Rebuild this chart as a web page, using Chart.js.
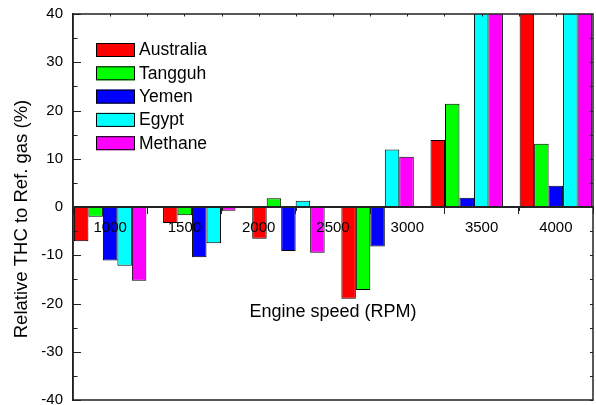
<!DOCTYPE html>
<html>
<head>
<meta charset="utf-8">
<script src="https://cdn.jsdelivr.net/npm/chart.js@4/dist/chart.umd.min.js"></script>
<style>
  html, body { margin: 0; padding: 0; background: #fff; }
  #wrap { width: 596px; height: 405px; }
</style>
</head>
<body>
<div id="wrap"><canvas id="myChart" width="596" height="405"></canvas></div>
<script>
// positions of the bar groups on the speed axis
const posicoes = [1000, 1600, 2200, 2800, 3400, 4000];
const ticksX = [1000, 1500, 2000, 2500, 3000, 3500, 4000];

const series = ['Australia', 'Tangguh', 'Yemen', 'Egypt', 'Methane'];
const australia = [-7.1, -3.3, -6.6, -19.0, 13.9, 52];
const tangguh = [-2.0, -1.7, 1.8, -17.2, 21.4, 13.1];
const yemen = [-11.1, -10.4, -9.1, -8.2, 1.9, 4.4];
const egypt = [-12.2, -7.5, 1.3, 11.9, 55, 60];
const methane = [-15.3, -0.8, -9.5, 10.4, 50, 58];
const cores = ['#ff0000', '#00ff00', '#0000ff', '#00ffff', '#ff00ff'];

const tituloY = 'Relative THC to Ref. gas (%)';
const fonte = "'Liberation Sans', Arial, sans-serif";

function montarDados(valores) {
    return posicoes.map((x, i) => ({ x: x, y: valores[i] }));
}

const todos = [australia, tangguh, yemen, egypt, methane];
const datasets = series.map((nome, i) => ({
    label: nome,
    data: montarDados(todos[i]),
    backgroundColor: cores[i],
    borderColor: '#000',
    borderWidth: 1,
    borderSkipped: false,
    categoryPercentage: 0.975,
    barPercentage: 1
}));

// moldura, ticks internos, titulo do eixo y e legenda
const moldura = {
    id: 'moldura',
    afterDraw(chart) {
        const c = chart.ctx;
        const a = chart.chartArea;
        const y = chart.scales.y;
        const x = chart.scales.x;
        c.save();
        c.strokeStyle = '#222';
        c.lineWidth = 1.5;
        c.strokeRect(a.left, a.top, a.right - a.left, a.bottom - a.top);
        c.lineWidth = 1;
        c.beginPath();
        for (let v = -40; v <= 40; v += 5) {
            const py = Math.round(y.getPixelForValue(v)) + 0.5;
            const len = v % 10 === 0 ? 8 : 4.5;
            c.moveTo(a.left, py); c.lineTo(a.left + len, py);
            c.moveTo(a.right, py); c.lineTo(a.right - 3, py);
        }
        for (let v = 1000; v <= 4000; v += 250) {
            const px = Math.round(x.getPixelForValue(v)) + 0.5;
            c.moveTo(px, a.top); c.lineTo(px, a.top + 2.5);
        }
        const y0 = y.getPixelForValue(0);
        for (let v = 1250; v <= 4000; v += 500) {
            const px = Math.round(x.getPixelForValue(v)) + 0.5;
            c.moveTo(px, y0); c.lineTo(px, y0 + 4);
        }
        c.stroke();

        // titulo do eixo y
        c.save();
        c.translate(22, 219);
        c.rotate(-Math.PI / 2);
        c.font = '18.5px ' + fonte;
        c.fillStyle = '#000';
        c.textAlign = 'center';
        c.textBaseline = 'middle';
        c.fillText(tituloY, 0, 0);
        c.restore();

        // legenda
        c.font = '17.5px ' + fonte;
        c.textBaseline = 'middle';
        c.textAlign = 'left';
        chart.data.datasets.forEach((ds, i) => {
            const top = 43 + i * 23.3;
            c.fillStyle = ds.backgroundColor;
            c.fillRect(96, top, 39, 14);
            c.strokeStyle = '#000';
            c.strokeRect(96.5, top + 0.5, 38, 13);
            c.fillStyle = '#000';
            c.fillText(ds.label, 139, top + 7.5);
        });
        c.restore();
    }
};

const ctx = document.getElementById('myChart');
const myChart = new Chart(ctx, {
    type: 'bar',
    data: { datasets: datasets },
    options: {
        responsive: false,
        devicePixelRatio: 1,
        animation: false,
        layout: { padding: { top: 14, right: 3, bottom: 5, left: 0 } },
        plugins: {
            legend: { display: false },
            tooltip: { enabled: false }
        },
        scales: {
            x: {
                type: 'linear',
                min: 750,
                max: 4250,
                offset: false,
                position: { y: 0 },
                afterBuildTicks: (axis) => { axis.ticks = ticksX.map(v => ({ value: v })); },
                afterFit: (s) => { s.paddingLeft = 0; s.paddingRight = 0; },
                grid: {
                    display: true,
                    drawOnChartArea: false,
                    drawTicks: true,
                    tickLength: 6,
                    tickColor: '#222',
                    tickWidth: 1,
                    z: 1
                },
                border: { display: true, color: '#222', width: 2, z: 1 },
                ticks: {
                    color: '#000',
                    font: { family: fonte, size: 15 },
                    padding: 6,
                    maxRotation: 0,
                    autoSkip: false,
                    z: 1,
                    callback: (v) => String(v)
                },
                title: {
                    display: true,
                    text: 'Engine speed (RPM)',
                    color: '#000',
                    font: { family: fonte, size: 18 },
                    padding: { top: 58, bottom: 0 }
                }
            },
            y: {
                min: -40,
                max: 40,
                afterFit: (s) => { s.width = 73; s.paddingTop = 0; s.paddingBottom = 0; },
                grid: { display: false, drawTicks: false },
                border: { display: true, color: '#222', width: 1.5 },
                ticks: {
                    stepSize: 10,
                    color: '#000',
                    font: { family: fonte, size: 15 },
                    padding: 10
                }
            }
        }
    },
    plugins: [moldura]
});
</script>
</body>
</html>
